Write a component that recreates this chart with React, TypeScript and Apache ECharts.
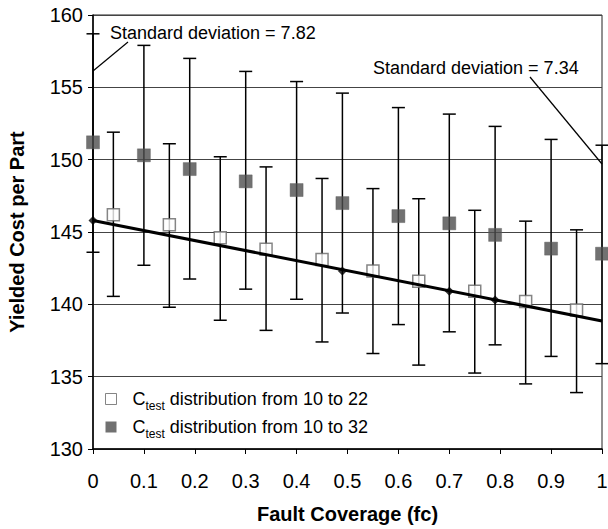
import React, { useEffect, useRef } from "react";
import * as echarts from "echarts";

// Fault coverage positions and yielded cost values
const filledX = [0, 0.1, 0.19, 0.3, 0.4, 0.49, 0.6, 0.7, 0.79, 0.9, 1.0];
const filledY = [151.2, 150.3, 149.35, 148.5, 147.9, 147.0, 146.1, 145.6, 144.8, 143.85, 143.5];
const filledHigh = [158.7, 157.9, 157.0, 156.1, 155.4, 154.6, 153.6, 153.15, 152.3, 151.4, 151.0];
const filledLow = [143.6, 142.7, 141.75, 141.05, 140.35, 139.4, 138.6, 138.1, 137.2, 136.4, 135.9];

const openX = [0.04, 0.15, 0.25, 0.34, 0.45, 0.55, 0.64, 0.75, 0.85, 0.95];
const openY = [146.2, 145.5, 144.6, 143.8, 143.1, 142.3, 141.6, 140.9, 140.2, 139.6];
const openHigh = [151.9, 151.1, 150.2, 149.5, 148.7, 148.0, 147.3, 146.5, 145.75, 145.15];
const openLow = [140.55, 139.8, 138.9, 138.2, 137.4, 136.6, 135.8, 135.25, 134.5, 133.9];

const trendX = [0, 1];
const trendY = [145.8, 138.85];
const diamondX = [0, 0.49, 0.7, 0.79];
const diamondY = [145.8, 142.3, 140.9, 140.3];

const seriesNames = ["C_test distribution from 10 to 22", "C_test distribution from 10 to 32"];
const legendTexts = ["distribution from 10 to 22", "distribution from 10 to 32"];
const annotations = ["Standard deviation = 7.82", "Standard deviation = 7.34"];

const FONT = "Arial, 'Liberation Sans', Helvetica, sans-serif";

function errorRender(params: any, api: any) {
  const x = api.value(0);
  const lo = api.value(1);
  const hi = api.value(2);
  const p1 = api.coord([x, hi]);
  const p2 = api.coord([x, lo]);
  const hw = 6.5;
  const st = { stroke: "#000", lineWidth: 1.5 };
  return {
    type: "group",
    children: [
      { type: "line", shape: { x1: p1[0], y1: p1[1], x2: p2[0], y2: p2[1] }, style: st },
      { type: "line", shape: { x1: p1[0] - hw, y1: p1[1], x2: p1[0] + hw, y2: p1[1] }, style: st },
      { type: "line", shape: { x1: p2[0] - hw, y1: p2[1], x2: p2[0] + hw, y2: p2[1] }, style: st },
    ],
  };
}

export default function App() {
  const ref = useRef<HTMLDivElement>(null);
  useEffect(() => {
    if (!ref.current) return;
    const chart = echarts.init(ref.current, null, { renderer: "svg" });
    const filledErr = filledX.map((x, i) => [x, filledLow[i], filledHigh[i]]);
    const openErr = openX.map((x, i) => [x, openLow[i], openHigh[i]]);
    chart.setOption({
      animation: false,
      backgroundColor: "#fff",
      grid: {
        left: 93,
        right: 6,
        top: 15,
        bottom: 80,
        show: true,
        borderColor: "#222",
        borderWidth: 1,
        containLabel: false,
        outerBoundsMode: "none",
      },
      xAxis: {
        type: "value",
        min: 0,
        max: 1,
        interval: 0.1,
        name: "Fault Coverage (fc)",
        nameLocation: "middle",
        nameGap: 55,
        nameTextStyle: { fontFamily: FONT, fontSize: 20, fontWeight: "bold", color: "#000" },
        axisLine: { show: true, lineStyle: { color: "#000", width: 1.5 } },
        axisTick: { show: true, length: 5, lineStyle: { color: "#000", width: 1 } },
        axisLabel: { fontFamily: FONT, fontSize: 20, color: "#000", margin: 22, hideOverlap: false },
        splitLine: { show: false },
      },
      yAxis: {
        type: "value",
        min: 130,
        max: 160,
        interval: 5,
        name: "Yielded Cost per Part",
        nameLocation: "middle",
        nameGap: 66,
        nameTextStyle: { fontFamily: FONT, fontSize: 20, fontWeight: "bold", color: "#000" },
        axisLine: { show: true, lineStyle: { color: "#000", width: 1.5 } },
        axisTick: { show: true, length: 5, lineStyle: { color: "#000", width: 1 } },
        axisLabel: { fontFamily: FONT, fontSize: 20, color: "#000", margin: 10 },
        splitLine: { show: true, lineStyle: { color: "#444", width: 1 } },
      },
      legend: {
        orient: "vertical",
        left: 105,
        top: 386,
        padding: 0,
        itemGap: 2,
        itemWidth: 11,
        itemHeight: 11,
        data: [
          { name: seriesNames[0], icon: "rect", itemStyle: { color: "#fff", borderColor: "#666", borderWidth: 1 } },
          { name: seriesNames[1], icon: "rect", itemStyle: { color: "#4d4d4d", borderColor: "#4d4d4d", borderWidth: 0 } },
        ],
        formatter: (name: string) => {
          const idx = seriesNames.indexOf(name);
          return "{c|C}{s|test}{n| " + legendTexts[idx] + "}";
        },
        textStyle: {
          fontFamily: FONT,
          fontSize: 18,
          color: "#000",
          rich: {
            c: { fontFamily: FONT, fontSize: 18, color: "#000", padding: [0, 0, 0, 11], lineHeight: 22 },
            s: { fontFamily: FONT, fontSize: 12, color: "#000", padding: [14, 0, 0, 0], lineHeight: 12 },
            n: { fontFamily: FONT, fontSize: 18, color: "#000", lineHeight: 22 },
          },
        },
      },
      series: [
        {
          type: "custom",
          name: "errOpen",
          renderItem: errorRender,
          data: openErr,
          encode: { x: 0, y: [1, 2] },
          clip: false,
          z: 2,
          silent: true,
        },
        {
          type: "custom",
          name: "errFilled",
          renderItem: errorRender,
          data: filledErr,
          encode: { x: 0, y: [1, 2] },
          clip: false,
          z: 2,
          silent: true,
        },
        {
          type: "scatter",
          name: seriesNames[0],
          data: openX.map((x, i) => [x, openY[i]]),
          symbol: "rect",
          symbolSize: 12,
          itemStyle: { color: "#fff", borderColor: "#666", borderWidth: 1.5 },
          z: 3,
          clip: false,
        },
        {
          type: "scatter",
          name: seriesNames[1],
          data: filledX.map((x, i) => [x, filledY[i]]),
          symbol: "rect",
          symbolSize: 13,
          itemStyle: { color: "#4d4d4d", borderColor: "#5a5a5a", borderWidth: 0.5 },
          z: 3,
          clip: false,
        },
        {
          type: "line",
          name: "trend",
          data: trendX.map((x, i) => [x, trendY[i]]),
          showSymbol: false,
          lineStyle: { color: "#000", width: 3 },
          z: 4,
          clip: false,
        },
        {
          type: "scatter",
          name: "trendPoints",
          data: diamondX.map((x, i) => [x, diamondY[i]]),
          symbol: "diamond",
          symbolSize: 9,
          itemStyle: { color: "#000" },
          z: 5,
          clip: false,
        },
      ],
      graphic: [
        {
          type: "text",
          x: 110,
          y: 33,
          z: 10,
          style: { text: annotations[0], font: "18px " + FONT, fill: "#000", verticalAlign: "middle", align: "left" },
        },
        {
          type: "line",
          z: 10,
          shape: { x1: 128, y1: 42, x2: 93, y2: 71 },
          style: { stroke: "#000", lineWidth: 1.2 },
        },
        {
          type: "text",
          x: 373,
          y: 68,
          z: 10,
          style: { text: annotations[1], font: "18px " + FONT, fill: "#000", verticalAlign: "middle", align: "left" },
        },
        {
          type: "line",
          z: 10,
          shape: { x1: 530, y1: 77, x2: 602, y2: 164 },
          style: { stroke: "#000", lineWidth: 1.2 },
        },
      ],
    });
    return () => chart.dispose();
  }, []);
  return <div ref={ref} style={{ width: 608, height: 529, position: "absolute", left: 0, top: 0 }} />;
}
